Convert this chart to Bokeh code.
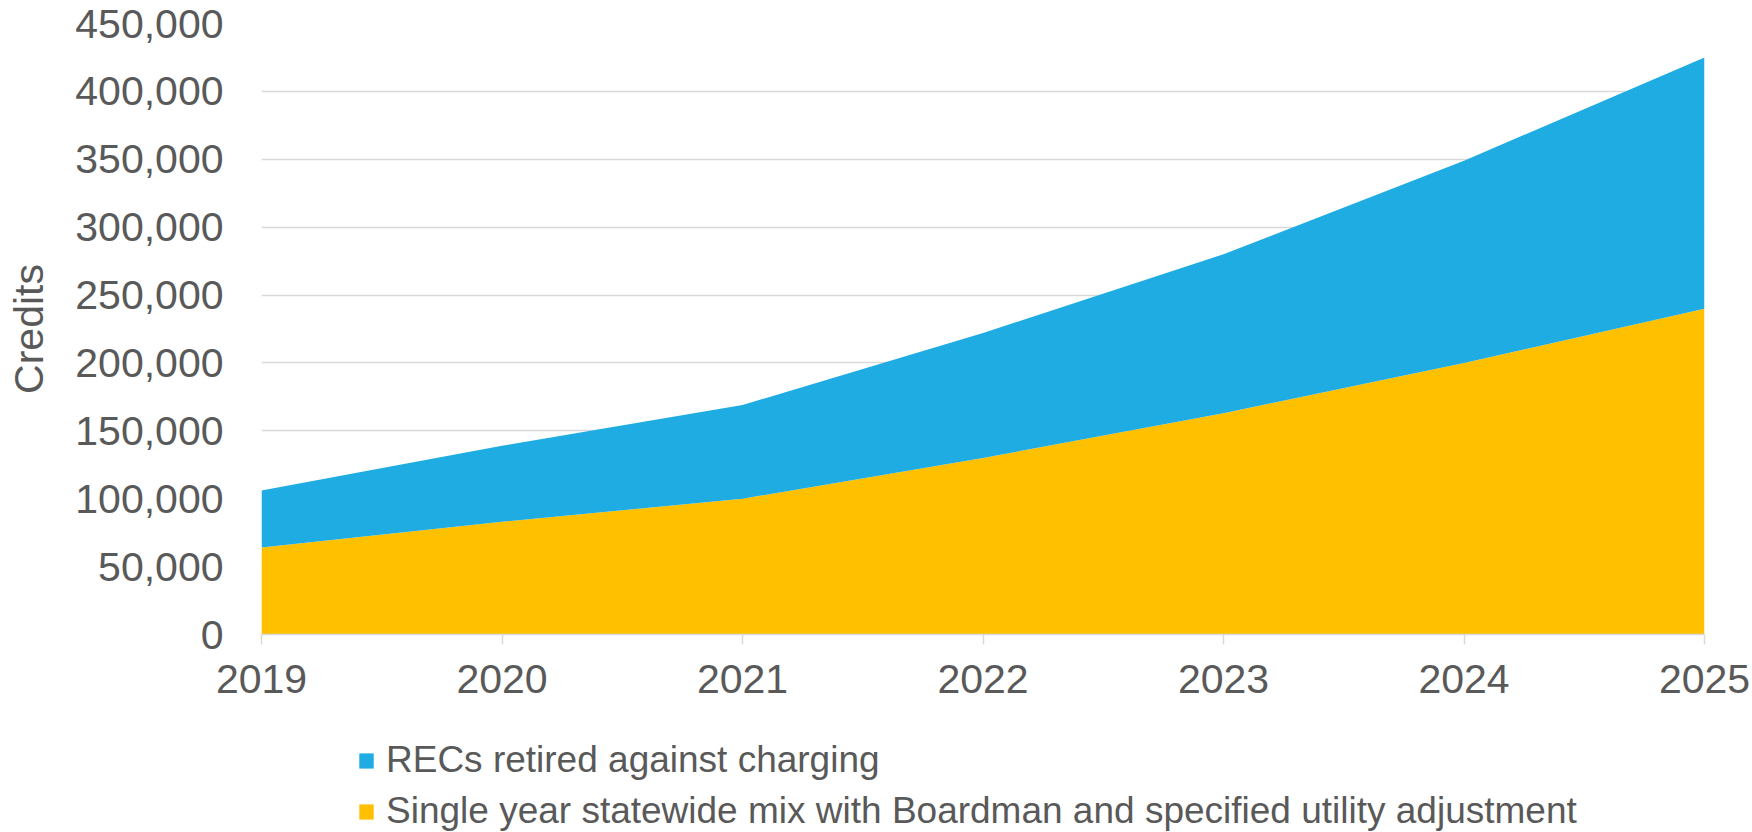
from bokeh.plotting import figure
from bokeh.layouts import column
from bokeh.models import Range1d, NumeralTickFormatter, FixedTicker, Legend, LegendItem, ColumnDataSource
from bokeh.embed import file_html
from bokeh.resources import INLINE

years = [2019, 2020, 2021, 2022, 2023, 2024, 2025]
single_year_mix = [64000, 83000, 100000, 130000, 163000, 200000, 240000]
recs_retired = [42000, 56000, 69000, 92000, 117000, 149000, 185000]
series_names = ["Single year statewide mix with Boardman and specified utility adjustment",
                "RECs retired against charging"]
y_ticks = [0, 50000, 100000, 150000, 200000, 250000, 300000, 350000, 400000, 450000]

FONT = "Liberation Sans"
TXT = "#595959"
BLUE = "#1FACE2"
GOLD = "#FFC000"

src = ColumnDataSource(dict(year=years, mix=single_year_mix, recs=recs_retired))

p = figure(width=1752, height=714, output_backend="svg", toolbar_location=None,
           x_range=Range1d(2019, 2025), y_range=Range1d(0, 450000),
           min_border_left=261, min_border_right=48, min_border_top=23, min_border_bottom=80)
p.outline_line_color = None
p.background_fill_color = "white"
p.border_fill_color = "white"

rs = p.varea_stack(stackers=["mix", "recs"], x="year", color=[GOLD, BLUE], source=src)

# grid
p.xgrid.visible = False
p.ygrid.ticker = FixedTicker(ticks=y_ticks)
p.ygrid.grid_line_color = "#D9D9D9"
p.ygrid.grid_line_width = 1.5

# y axis
ya = p.yaxis[0]
ya.ticker = FixedTicker(ticks=y_ticks)
ya.formatter = NumeralTickFormatter(format="0,0")
ya.axis_line_color = None
ya.major_tick_line_color = None
ya.minor_tick_line_color = None
ya.major_tick_out = 0
ya.major_tick_in = 0
ya.major_label_standoff = 38
ya.major_label_text_font = FONT
ya.major_label_text_font_size = "41px"
ya.major_label_text_color = TXT
ya.axis_label = "Credits"
ya.axis_label_text_font = FONT
ya.axis_label_text_font_size = "41px"
ya.axis_label_text_font_style = "normal"
ya.axis_label_text_color = TXT
ya.axis_label_standoff = 20

# x axis
xa = p.xaxis[0]
xa.ticker = FixedTicker(ticks=years)
xa.axis_line_color = "#D9D9D9"
xa.axis_line_width = 1.5
xa.major_tick_line_color = "#D9D9D9"
xa.major_tick_line_width = 1.5
xa.major_tick_out = 10
xa.major_tick_in = 0
xa.minor_tick_line_color = None
xa.major_label_standoff = 20
xa.major_label_text_font = FONT
xa.major_label_text_font_size = "41px"
xa.major_label_text_color = TXT

# legend strip below the chart (same frame alignment as the chart)
p2 = figure(width=1752, height=118, output_backend="svg", toolbar_location=None,
            x_axis_type=None, y_axis_type=None,
            x_range=Range1d(0, 1), y_range=Range1d(0, 1),
            min_border_left=261, min_border_right=48, min_border_top=0, min_border_bottom=0)
p2.outline_line_color = None
p2.grid.visible = False
p2.background_fill_color = "white"
p2.border_fill_color = "white"
rs2 = p2.varea_stack(stackers=["mix", "recs"], x="year", color=[GOLD, BLUE], source=src)

legend = Legend(items=[LegendItem(label=series_names[1], renderers=[rs2[1]]),
                       LegendItem(label=series_names[0], renderers=[rs2[0]])],
                location=(96, -2))
legend.label_text_font = FONT
legend.label_text_font_size = "37px"
legend.label_text_color = TXT
legend.glyph_width = 18
legend.glyph_height = 19
legend.label_height = 46
legend.label_standoff = 11
legend.padding = 0
legend.margin = 0
legend.spacing = 5
legend.border_line_color = None
legend.background_fill_alpha = 0
p2.add_layout(legend, "center")

open("out.html", "w").write(file_html(column(p, p2, spacing=0), INLINE))
